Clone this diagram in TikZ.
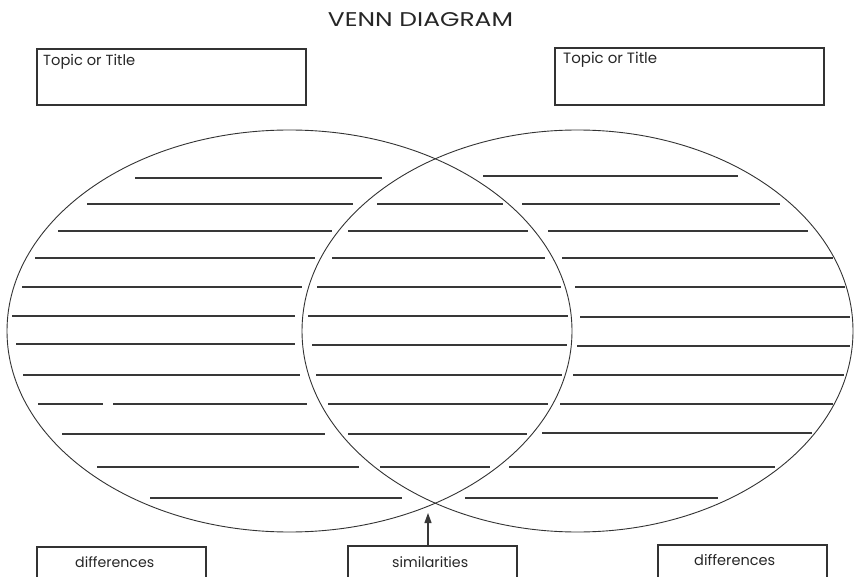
\documentclass[tikz,border=0pt]{standalone}
\usepackage{graphicx}
\usepackage{fontspec}
\setmainfont{Poppins}
\usetikzlibrary{shapes.geometric,arrows.meta}
\begin{document}
\begin{tikzpicture}[x=1pt,y=-1pt,
  ring/.style={draw=black!80, line width=0.9pt, ellipse, inner sep=0pt, outer sep=0pt},
  rule/.style={draw=black!78, line width=1.1pt},
  labelbox/.style={draw=black!80, line width=1.2pt, rectangle, inner sep=0pt},
  boxtext/.style={text=black!85, inner sep=0pt, anchor=base west},
  ]
\useasboundingbox (0,0) rectangle (856,577);
\clip (0,0) rectangle (856,577);

% title
\node[text=black!85, inner sep=0pt, anchor=base] (title) at (420.5,27) {\resizebox{185pt}{14pt}{VENN DIAGRAM}};

% topic boxes
\node[labelbox, minimum width=269pt, minimum height=56pt] (tl) at (171.5,77) {};
\node[labelbox, minimum width=269pt, minimum height=57pt] (tr) at (689.5,76.5) {};
\node[boxtext] (tlt) at (43,66) {\resizebox{92pt}{!}{Topic or Title}};
\node[boxtext] (trt) at (563,64) {\resizebox{94pt}{!}{Topic or Title}};

% ellipses
\node[ring, minimum width=565pt, minimum height=402pt] (L) at (289.5,331) {};
\node[ring, minimum width=551pt, minimum height=402pt] (R) at (577.5,331) {};

% writing lines
\foreach \yy/\xa/\xb in {
  178/135/382, 204/87/353, 231/58/332, 258/35/315, 287/22/302,
  316/12/295, 344/16/295, 375/23/300, 404/38/103, 404/113/307,
  434/62/325, 467/97/359, 498/150/402,
  204/377/503, 231/348/528, 258/332/545, 287/317/561, 316/308/568,
  345/312/567, 375/316/562, 404/328/548, 434/348/527, 467/380/490,
  176/483/738, 204/522/780, 231/548/808, 258/562/833, 287/575/845,
  317/580/850, 346/577/850, 375/573/844, 404/560/833, 433/542/812,
  467/509/775, 498/465/718}
  \draw[rule] (\xa,\yy) -- (\xb,\yy);

% bottom boxes
\node[labelbox, minimum width=169pt, minimum height=50pt] (dl) at (121.5,572) {};
\node[labelbox, minimum width=169pt, minimum height=50pt] (sim) at (432.5,571) {};
\node[labelbox, minimum width=169pt, minimum height=50pt] (dr) at (742.5,570) {};
\node[boxtext] (dlt) at (75,567) {\resizebox{79pt}{!}{differences}};
\node[boxtext] (simt) at (392,567) {\resizebox{76pt}{!}{similarities}};
\node[boxtext] (drt) at (694,565) {\resizebox{81pt}{!}{differences}};

% arrow to the intersection
\coordinate (tip) at (428,513);
\draw[rule, -{Triangle[length=10pt,width=7pt]}] (tip |- sim.north) -- (tip);
\end{tikzpicture}
\end{document}
